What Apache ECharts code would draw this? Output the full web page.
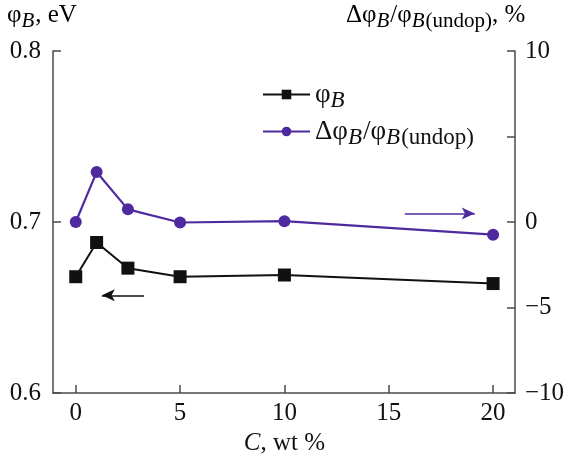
<!DOCTYPE html>
<html>
<head>
<meta charset="utf-8">
<script src="https://cdn.jsdelivr.net/npm/echarts@6/dist/echarts.min.js"></script>
<style>html,body{margin:0;padding:0;background:#fff}#c{width:572px;height:457px}</style>
</head>
<body>
<div id="c"></div>
<script>
// ---- data ----
const concentration = [0, 1, 2.5, 5, 10, 20];            // C, wt %
const phiB = [0.668, 0.688, 0.673, 0.668, 0.669, 0.664]; // φB, eV (left axis)
const deltaPhi = [0, 2.92, 0.74, -0.03, 0.05, -0.74];     // Δφ/φ(undop), % (right axis)
const xMin = -1.09, xMax = 21.05;
const xTickMin = 0, xTickMax = 20, xTickStep = 5;
const rightHiddenLabels = [5];
// annotation arrows (data coordinates)
const leftArrowX = [3.27, 1.25];   const leftArrowY = 0.6571;
const rightArrowX = [15.77, 19.12]; const rightArrowY = 0.49;

const FONT = '"Liberation Serif", "DejaVu Serif", serif';
const FS = 25;
const INK = '#111';
const AXIS = '#4a4a4a';
const PURPLE = '#4f2a9e';

const makeRich = (main, sub, drop) => ({
  g: {fontFamily: FONT, fontSize: main, color: INK},
  i: {fontFamily: FONT, fontSize: sub, fontStyle: 'italic', color: INK, padding: [drop, 1, 0, 0]},
  s: {fontFamily: FONT, fontSize: sub, color: INK, padding: [drop, 0, 0, 0]}
});
const rich = makeRich(FS, 21, 11);
const legendRich = makeRich(27, 23, 12);

// plot area in pixels
const G = {left: 53, right: 57, top: 51, bottom: 64};
const W = 572;
const pxPerUnit = (W - G.left - G.right) / (xMax - xMin);
const tickGrid = {
  left: G.left + (xTickMin - xMin) * pxPerUnit,
  right: G.right + (xMax - xTickMax) * pxPerUnit,
  top: G.top, bottom: G.bottom
};

const chart = echarts.init(document.getElementById('c'), null, {renderer: 'canvas'});
const fmtMinus = v => rightHiddenLabels.includes(v) ? '' : String(v).replace('-', '\u2212');

chart.setOption({
  animation: false,
  backgroundColor: '#fff',
  grid: [
    Object.assign({containLabel: false, outerBoundsMode: 'none'}, G),
    Object.assign({containLabel: false, outerBoundsMode: 'none'}, tickGrid)
  ],
  xAxis: [{
    gridIndex: 0, type: 'value', min: xMin, max: xMax,
    axisLine: {show: true, onZero: false, lineStyle: {color: AXIS, width: 1.5}},
    axisTick: {show: false}, axisLabel: {show: false}, splitLine: {show: false}
  }, {
    gridIndex: 1, type: 'value', min: xTickMin, max: xTickMax, interval: xTickStep,
    name: '{c|C}{n|, wt %}', nameLocation: 'middle', nameGap: 33,
    nameTextStyle: {rich: {
      c: {fontFamily: FONT, fontSize: FS, fontStyle: 'italic', color: INK},
      n: {fontFamily: FONT, fontSize: FS, color: INK}
    }},
    axisLine: {show: false, onZero: false},
    axisTick: {show: true, inside: true, length: 8, lineStyle: {color: AXIS, width: 1.5}},
    axisLabel: {margin: 8, fontFamily: FONT, fontSize: FS, color: INK},
    splitLine: {show: false}
  }],
  yAxis: [{
    gridIndex: 0, type: 'value', min: 0.6, max: 0.8, interval: 0.1, position: 'left',
    axisLine: {show: true, onZero: false, lineStyle: {color: AXIS, width: 1.5}},
    axisTick: {show: true, inside: true, length: 8, lineStyle: {color: AXIS, width: 1.5}},
    axisLabel: {margin: 12, fontFamily: FONT, fontSize: FS, color: INK, formatter: v => v.toFixed(1)},
    splitLine: {show: false}
  }, {
    gridIndex: 0, type: 'value', min: -10, max: 10, interval: 5, position: 'right',
    axisLine: {show: true, onZero: false, lineStyle: {color: AXIS, width: 1.5}},
    axisTick: {show: true, inside: true, length: 8, lineStyle: {color: AXIS, width: 1.5}},
    axisLabel: {margin: 10, fontFamily: FONT, fontSize: FS, color: INK, formatter: fmtMinus},
    splitLine: {show: false}
  }, {
    gridIndex: 1, type: 'value', min: 0, max: 1, show: false
  }],
  legend: {
    orient: 'vertical', left: 257, top: 76, itemWidth: 47, itemHeight: 12, itemGap: 6,
    data: ['phi', 'delta'],
    formatter: n => n === 'phi' ? '{g|φ}{i|B}' : '{g|Δφ}{i|B}{g|/φ}{i|B}{s|(undop)}',
    textStyle: {rich: legendRich, padding: [0, 0, 0, 0]}
  },
  graphic: [
    {type: 'text', left: 7, top: 3, style: {text: '{g|φ}{i|B}{g|, eV}', rich: rich}},
    {type: 'text', left: 346, top: 3, style: {text: '{g|Δφ}{i|B}{g|/φ}{i|B}{s|(undop)}{g|, %}', rich: rich}}
  ],
  series: [{
    name: 'phi', type: 'line', xAxisIndex: 0, yAxisIndex: 0,
    data: concentration.map((c, k) => [c, phiB[k]]),
    symbol: 'rect', symbolSize: 13,
    lineStyle: {color: INK, width: 2}, itemStyle: {color: INK},
    markLine: {
      silent: true, symbol: ['none', 'arrow'], symbolSize: [9, 13],
      label: {show: false},
      lineStyle: {color: INK, width: 1.5, type: 'solid'},
      data: [[{coord: [leftArrowX[0], leftArrowY]}, {coord: [leftArrowX[1], leftArrowY]}]]
    }
  }, {
    name: 'delta', type: 'line', xAxisIndex: 0, yAxisIndex: 1,
    data: concentration.map((c, k) => [c, deltaPhi[k]]),
    symbol: 'circle', symbolSize: 12,
    lineStyle: {color: PURPLE, width: 2.2}, itemStyle: {color: PURPLE},
    markLine: {
      silent: true, symbol: ['none', 'arrow'], symbolSize: [9, 13],
      label: {show: false},
      lineStyle: {color: PURPLE, width: 1.5, type: 'solid'},
      data: [[{coord: [rightArrowX[0], rightArrowY]}, {coord: [rightArrowX[1], rightArrowY]}]]
    }
  }]
});
</script>
</body>
</html>
